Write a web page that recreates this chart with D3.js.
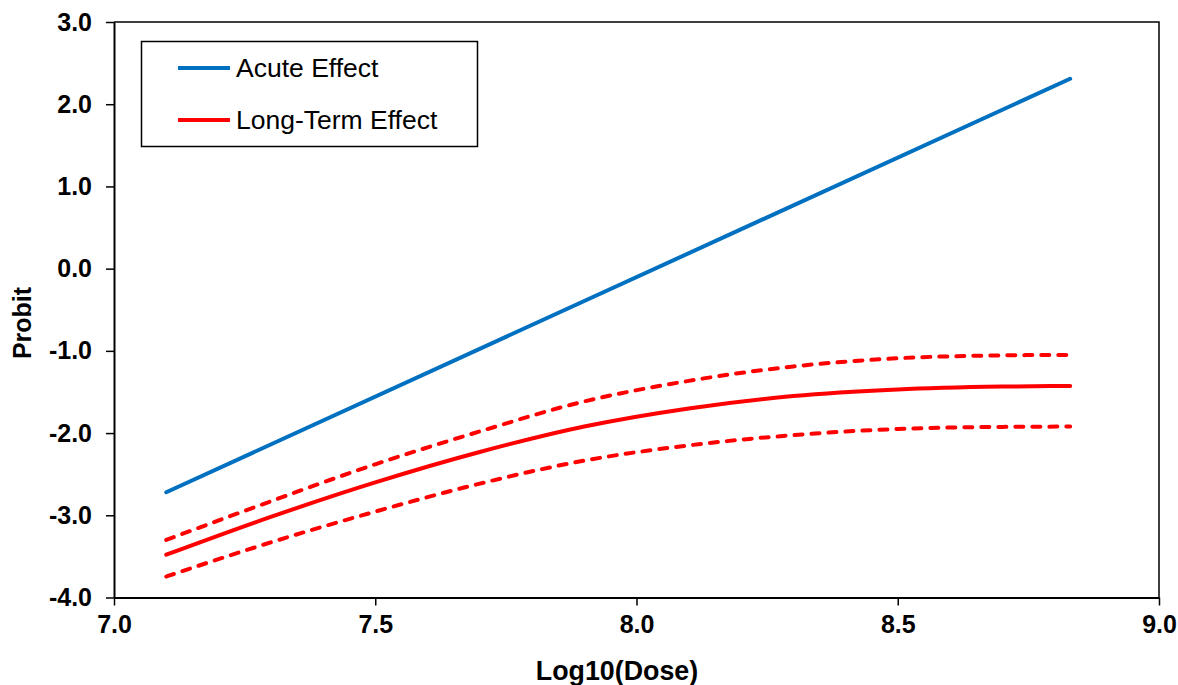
<!DOCTYPE html>
<html>
<head>
<meta charset="utf-8">
<script src="https://cdn.jsdelivr.net/npm/d3@7"></script>
<style>
  body { margin: 0; background: #fff; }
  svg text { font-family: "Liberation Sans", Arial, sans-serif; }
</style>
</head>
<body>
<div id="chart"></div>
<script>
// data
const acuteDose = [7.1, 8.83]
const acuteProbit = [-2.72, 2.31]

const longDose = [7.1, 7.3, 7.5, 7.7, 7.9, 8.1, 8.3, 8.5, 8.7, 8.83]
const longMid = [-3.48, -3.02, -2.60, -2.23, -1.92, -1.70, -1.55, -1.47, -1.435, -1.426]
const longUpper = [-3.30, -2.83, -2.38, -1.98, -1.615, -1.365, -1.19, -1.09, -1.055, -1.049]
const longLower = [-3.745, -3.33, -2.955, -2.615, -2.335, -2.15, -2.025, -1.95, -1.925, -1.921]

const xTicks = [7.0, 7.5, 8.0, 8.5, 9.0]
const yTicks = [-4, -3, -2, -1, 0, 1, 2, 3]
const legendLabels = ['Acute Effect', 'Long-Term Effect']

const width = 1178, height = 685
const plot = { left: 114, top: 22, right: 1159, bottom: 597.5 }
const blue = '#0070C0', red = '#FF0000'

let svg = d3.select('#chart').append('svg')
  .attr('width', width)
  .attr('height', height)

let x = d3.scaleLinear().domain([7, 9]).range([plot.left, plot.right])
let y = d3.scaleLinear().domain([-4, 3]).range([plot.bottom, plot.top])

// frame: top and right
svg.append('path')
  .attr('d', `M${plot.left},${plot.top}H${plot.right}V${plot.bottom}`)
  .attr('fill', 'none')
  .attr('stroke', '#000')
  .attr('stroke-width', 1.5)

let xAxis = svg.append('g')
  .attr('transform', `translate(0,${plot.bottom})`)
  .call(d3.axisBottom(x).tickValues(xTicks).tickSize(8).tickSizeOuter(0).tickPadding(10).tickFormat(d3.format('.1f')))
let yAxis = svg.append('g')
  .attr('transform', `translate(${plot.left},0)`)
  .call(d3.axisLeft(y).tickValues(yTicks).tickSize(8).tickSizeOuter(0).tickPadding(14).tickFormat(d3.format('.1f')))

for (let ax of [xAxis, yAxis]) {
  ax.select('.domain').attr('stroke', '#000').attr('stroke-width', 2)
  ax.selectAll('.tick line').attr('stroke', '#000').attr('stroke-width', 1.5)
  ax.selectAll('.tick text')
    .attr('fill', '#000')
    .style('font-size', '25px')
    .style('font-weight', 'bold')
    .style('font-family', '"Liberation Sans", Arial, sans-serif')
}
// d3 uses a real minus sign; the reference shows a hyphen
yAxis.selectAll('.tick text').text((d) => d3.format('.1f')(d).replace('−', '-'))

svg.append('text')
  .attr('x', 617)
  .attr('y', 680)
  .attr('text-anchor', 'middle')
  .style('font-size', '26.8px')
  .style('font-weight', 'bold')
  .text('Log10(Dose)')

svg.append('text')
  .attr('transform', 'translate(31,323) rotate(-90)')
  .attr('text-anchor', 'middle')
  .style('font-size', '25px')
  .style('font-weight', 'bold')
  .text('Probit')

let line = d3.line()
  .x((d) => x(d[0]))
  .y((d) => y(d[1]))
  .curve(d3.curveMonotoneX)

const series = [
  { xs: acuteDose, ys: acuteProbit, color: blue, dash: null },
  { xs: longDose, ys: longUpper, color: red, dash: '8,9' },
  { xs: longDose, ys: longLower, color: red, dash: '8,9' },
  { xs: longDose, ys: longMid, color: red, dash: null }
]

svg.append('g').selectAll('path')
  .data(series)
  .enter().append('path')
  .attr('d', (s) => line(s.xs.map((v, i) => [v, s.ys[i]])))
  .attr('fill', 'none')
  .attr('stroke', (s) => s.color)
  .attr('stroke-width', 4)
  .attr('stroke-linecap', 'round')
  .attr('stroke-dasharray', (s) => s.dash)

// legend
let legend = svg.append('g')
legend.append('rect')
  .attr('x', 141.5)
  .attr('y', 41.5)
  .attr('width', 336)
  .attr('height', 105)
  .attr('fill', '#fff')
  .attr('stroke', '#000')
  .attr('stroke-width', 1.5)

let item = legend.selectAll('.item')
  .data(legendLabels)
  .enter().append('g')
  .attr('class', 'item')
  .attr('transform', (d, i) => `translate(0,${68 + i * 52})`)

item.append('line')
  .attr('x1', 178)
  .attr('x2', 230)
  .attr('stroke', (d, i) => i === 0 ? blue : red)
  .attr('stroke-width', 4)

item.append('text')
  .attr('x', 236)
  .attr('y', 9)
  .style('font-size', '26.5px')
  .text((d) => d)
</script>
</body>
</html>
